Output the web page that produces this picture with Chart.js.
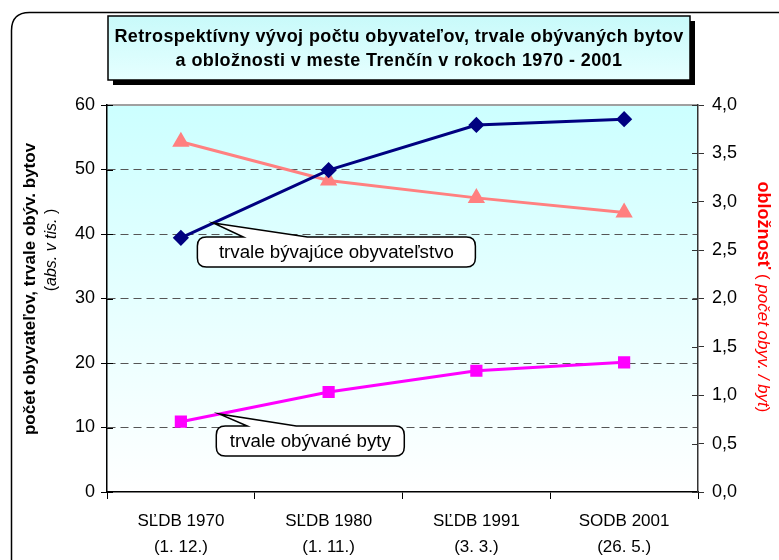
<!DOCTYPE html>
<html>
<head>
<meta charset="utf-8">
<script src="https://cdn.jsdelivr.net/npm/chart.js@4/dist/chart.umd.min.js"></script>
<style>
  body { margin: 0; background: #fff; }
  #wrap { width: 779px; height: 560px; }
</style>
</head>
<body>
<div id="wrap"><canvas id="vyvojChart" width="779" height="560"></canvas></div>
<script>
// census labels (two lines each)
const censusNames = ["SĽDB 1970", "SĽDB 1980", "SĽDB 1991", "SODB 2001"];
const censusDates = ["(1. 12.)", "(1. 11.)", "(3. 3.)", "(26. 5.)"];

// thousands of inhabitants / permanently occupied flats
const obyvatelstvo = [39.4, 49.9, 56.9, 57.8];
const byty = [10.9, 15.5, 18.8, 20.1];
// inhabitants per flat (right axis)
const obloznost = [3.62, 3.22, 3.04, 2.89];

const leftTicks = [0, 10, 20, 30, 40, 50, 60];
const rightStep = 0.5;

const FONT = "Arial, 'Liberation Sans', sans-serif";

function roundRect(ctx, x, y, w, h, r) {
  ctx.beginPath();
  ctx.moveTo(x + r, y);
  ctx.lineTo(x + w - r, y);
  ctx.quadraticCurveTo(x + w, y, x + w, y + r);
  ctx.lineTo(x + w, y + h - r);
  ctx.quadraticCurveTo(x + w, y + h, x + w - r, y + h);
  ctx.lineTo(x + r, y + h);
  ctx.quadraticCurveTo(x, y + h, x, y + h - r);
  ctx.lineTo(x, y + r);
  ctx.quadraticCurveTo(x, y, x + r, y);
  ctx.closePath();
}

// speech bubble with wedge pointing up to a point on a line
function callout(ctx, tip, box, wedge, text) {
  const r = 9;
  const { x, y, w, h } = box;
  ctx.save();
  ctx.beginPath();
  ctx.moveTo(x + r, y);
  ctx.lineTo(wedge[0], y);
  ctx.lineTo(tip.x, tip.y);
  ctx.lineTo(wedge[1], y);
  ctx.lineTo(x + w - r, y);
  ctx.quadraticCurveTo(x + w, y, x + w, y + r);
  ctx.lineTo(x + w, y + h - r);
  ctx.quadraticCurveTo(x + w, y + h, x + w - r, y + h);
  ctx.lineTo(x + r, y + h);
  ctx.quadraticCurveTo(x, y + h, x, y + h - r);
  ctx.lineTo(x, y + r);
  ctx.quadraticCurveTo(x, y, x + r, y);
  ctx.closePath();
  ctx.fillStyle = "#fff";
  ctx.fill();
  ctx.lineWidth = 1.5;
  ctx.strokeStyle = "#000";
  ctx.stroke();
  ctx.fillStyle = "#000";
  ctx.font = "18.7px " + FONT;
  ctx.textAlign = "center";
  ctx.textBaseline = "middle";
  ctx.fillText(text, x + w / 2, y + h / 2 + 1);
  ctx.restore();
}

// draws consecutive text runs with their own fonts/colours
function drawRuns(ctx, runs, cx, cy) {
  let total = 0;
  runs.forEach(r => { ctx.font = r.font; r.w = ctx.measureText(r.text).width; total += r.w; });
  let x = cx - total / 2;
  ctx.textBaseline = "middle";
  ctx.textAlign = "left";
  runs.forEach(r => {
    ctx.font = r.font;
    ctx.fillStyle = r.color || "#000";
    ctx.fillText(r.text, x, cy);
    x += r.w;
  });
}

const backdrop = {
  id: "backdrop",
  beforeDraw(chart) {
    const ctx = chart.ctx;
    const a = chart.chartArea;
    ctx.save();
    ctx.fillStyle = "#fff";
    ctx.fillRect(0, 0, chart.width, chart.height);

    // outer frame
    roundRect(ctx, 11.5, 12.5, 790, 570, 18);
    ctx.lineWidth = 1.5;
    ctx.strokeStyle = "#000";
    ctx.stroke();

    // plot area fill
    const g = ctx.createLinearGradient(0, a.top, 0, a.bottom);
    g.addColorStop(0, "#ccffff");
    g.addColorStop(1, "#ffffff");
    ctx.fillStyle = g;
    ctx.fillRect(a.left, a.top, a.right - a.left, a.bottom - a.top);
    ctx.strokeStyle = "#a0a0a0";
    ctx.lineWidth = 2;
    ctx.beginPath();
    ctx.moveTo(a.left, a.top);
    ctx.lineTo(a.right, a.top);
    ctx.stroke();

    // title box with shadow
    const tx = 108, ty = 16, tw = 582, th = 64;
    ctx.fillStyle = "#000";
    ctx.fillRect(tx + 5, ty + 5, tw, th);
    const tg = ctx.createLinearGradient(0, ty, 0, ty + th);
    tg.addColorStop(0, "#c8fafa");
    tg.addColorStop(1, "#e6ffff");
    ctx.fillStyle = tg;
    ctx.fillRect(tx, ty, tw, th);
    ctx.lineWidth = 1.5;
    ctx.strokeStyle = "#000";
    ctx.strokeRect(tx, ty, tw, th);
    ctx.fillStyle = "#000";
    ctx.font = "bold 18px " + FONT;
    ctx.letterSpacing = "0.4px";
    ctx.textAlign = "center";
    ctx.textBaseline = "middle";
    ctx.fillText("Retrospektívny vývoj počtu obyvateľov, trvale obývaných bytov", tx + tw / 2, 37);
    ctx.fillText("a obložnosti v meste Trenčín v rokoch 1970 - 2001", tx + tw / 2, 61);
    ctx.letterSpacing = "0px";
    ctx.restore();
  },
  afterDraw(chart) {
    const ctx = chart.ctx;
    const a = chart.chartArea;
    const x = chart.scales.x, y = chart.scales.y, y1 = chart.scales.y1;
    ctx.save();

    // right axis tick marks reach into the plot as well
    ctx.strokeStyle = "#333";
    ctx.lineWidth = 1;
    for (let v = 0; v <= 4; v += rightStep) {
      const py = Math.round(y1.getPixelForValue(v)) + 0.5;
      ctx.beginPath();
      ctx.moveTo(a.right - 6, py);
      ctx.lineTo(a.right, py);
      ctx.stroke();
    }
    // left axis tick marks into the plot
    ctx.strokeStyle = "#000";
    leftTicks.forEach(v => {
      const py = Math.round(y.getPixelForValue(v)) + 0.5;
      ctx.beginPath();
      ctx.moveTo(a.left, py);
      ctx.lineTo(a.left + 6, py);
      ctx.stroke();
    });

    // callouts anchored on the lines between the first two censuses
    const along = (data, scale, t) => {
      const x0 = x.getPixelForValue(0), x1 = x.getPixelForValue(1);
      const v0 = scale.getPixelForValue(data[0]), v1 = scale.getPixelForValue(data[1]);
      return { x: x0 + (x1 - x0) * t, y: v0 + (v1 - v0) * t };
    };
    const t1 = along(obyvatelstvo, y, 0.22);
    callout(ctx, t1, { x: t1.x - 16, y: t1.y + 14, w: 278, h: 30 },
      [t1.x + 30, t1.x + 94], "trvale bývajúce obyvateľstvo");
    const t2 = along(byty, y, 0.26);
    callout(ctx, t2, { x: t2.x - 3, y: t2.y + 12, w: 188, h: 30 },
      [t2.x + 28, t2.x + 77], "trvale obývané byty");

    // left axis title
    ctx.save();
    ctx.translate(30, 289);
    ctx.rotate(-Math.PI / 2);
    drawRuns(ctx, [{ text: "počet obyvateľov, trvale obýv. bytov", font: "bold 17px " + FONT }], 0, 0);
    ctx.restore();
    ctx.save();
    ctx.translate(52, 250);
    ctx.rotate(-Math.PI / 2);
    drawRuns(ctx, [
      { text: "(", font: "16px " + FONT },
      { text: "abs. v tis.", font: "italic 16px " + FONT },
      { text: " )", font: "16px " + FONT }
    ], 0, 0);
    ctx.restore();

    // right axis title
    ctx.save();
    ctx.translate(763, 297);
    ctx.rotate(Math.PI / 2);
    drawRuns(ctx, [
      { text: "obložnosť", font: "bold 18px " + FONT, color: "#ff0000" },
      { text: " ( ", font: "17px " + FONT, color: "#ff0000" },
      { text: "počet obyv. / byt", font: "italic 17px " + FONT, color: "#ff0000" },
      { text: ")", font: "17px " + FONT, color: "#ff0000" }
    ], 0, 0);
    ctx.restore();

    ctx.restore();
  }
};

const ctx = document.getElementById("vyvojChart").getContext("2d");
const chart = new Chart(ctx, {
  type: "line",
  data: {
    labels: censusNames.map((n, i) => [n, censusDates[i]]),
    datasets: [
      {
        label: "trvale bývajúce obyvateľstvo",
        data: obyvatelstvo,
        yAxisID: "y",
        borderColor: "#000080",
        backgroundColor: "#000080",
        borderWidth: 3,
        pointStyle: "rectRot",
        pointRadius: 6,
        tension: 0
      },
      {
        label: "trvale obývané byty",
        data: byty,
        yAxisID: "y",
        borderColor: "#ff00ff",
        backgroundColor: "#ff00ff",
        borderWidth: 3,
        pointStyle: "rect",
        pointRadius: 6.5,
        tension: 0
      },
      {
        label: "obložnosť",
        data: obloznost,
        yAxisID: "y1",
        borderColor: "#ff8080",
        backgroundColor: "#ff8080",
        borderWidth: 3,
        pointStyle: "triangle",
        pointRadius: 7,
        tension: 0
      }
    ]
  },
  options: {
    responsive: false,
    animation: false,
    events: [],
    layout: { padding: { top: 105, left: 0, right: 0, bottom: 0 } },
    plugins: { legend: { display: false }, tooltip: { enabled: false } },
    scales: {
      x: {
        offset: true,
        grid: { offset: true, drawOnChartArea: false, tickLength: 7, color: "#000" },
        border: { color: "#000", width: 1.5 },
        ticks: { color: "#000", padding: 10, maxRotation: 0, font: { family: FONT, size: 17, lineHeight: 1.5 } },
        afterFit(s) { s.height = 68; }
      },
      y: {
        position: "left",
        min: 0,
        max: 60,
        afterBuildTicks(s) { s.ticks = leftTicks.map(v => ({ value: v })); },
        grid: { color: ctx => ctx.tick && (ctx.tick.value === 0 || ctx.tick.value === 60) ? "rgba(0,0,0,0)" : "#555", lineWidth: 1, tickLength: 6, tickColor: "#000" },
        border: { color: "#000", width: 1.5, dash: [8, 5] },
        ticks: { color: "#000", padding: 6, font: { family: FONT, size: 18 } },
        afterFit(s) { s.width = 107; }
      },
      y1: {
        position: "right",
        min: 0,
        max: 4,
        ticks: {
          stepSize: rightStep,
          color: "#000",
          padding: 8,
          font: { family: FONT, size: 18 },
          callback: v => v.toFixed(1).replace(".", ",")
        },
        grid: { drawOnChartArea: false, tickLength: 6, color: "#333" },
        border: { color: "#333", width: 1.5 },
        afterFit(s) { s.width = 81; }
      }
    }
  },
  plugins: [backdrop]
});
</script>
</body>
</html>
